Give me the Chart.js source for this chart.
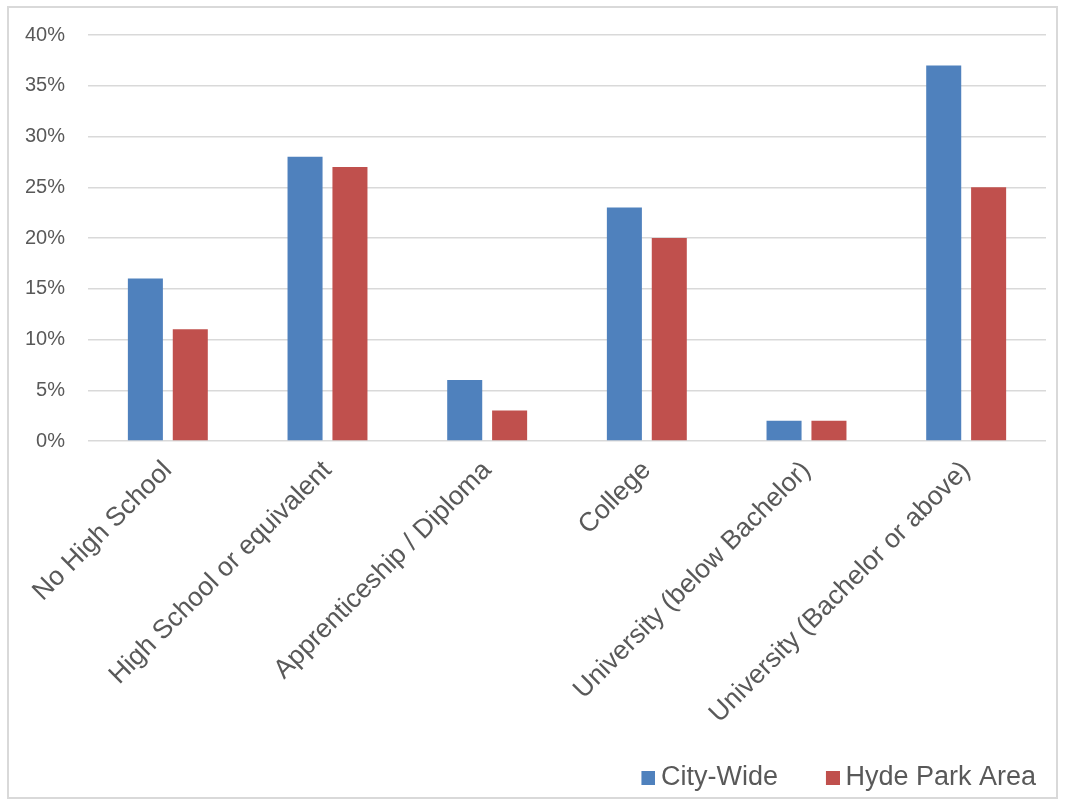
<!DOCTYPE html>
<html>
<head>
<meta charset="utf-8">
<script src="https://cdn.jsdelivr.net/npm/chart.js@4/dist/chart.umd.min.js"></script>
<style>
  html, body { margin: 0; padding: 0; background: #ffffff; }
  #frame {
    position: absolute; left: 7px; top: 6px;
    width: 1051px; height: 793px;
    border: 2px solid #d9d9d9; box-sizing: border-box;
  }
  #chart { display: block; }
</style>
</head>
<body>
<div id="frame"><canvas id="chart" width="1047" height="789"></canvas></div>
<script>
const categories = [
  'No High School',
  'High School or equivalent',
  'Apprenticeship / Diploma',
  'College',
  'University (below Bachelor)',
  'University (Bachelor or above)'
];
const cityWide = [16, 28, 6, 23, 2, 37];
const hydePark = [11, 27, 3, 20, 2, 25];
const yTicks = [0, 5, 10, 15, 20, 25, 30, 35, 40];

const FONT = '"Liberation Sans", Arial, sans-serif';
const TEXT = '#595959';
const COLORS = ['#4f81bd', '#c0504d'];

// Legend swatch: a 14px square at the right edge of a wider transparent
// image, so the square sits close to its label text.
function swatch(color) {
  const c = document.createElement('canvas');
  c.width = 60; c.height = 14;
  const g = c.getContext('2d');
  g.fillStyle = color;
  g.fillRect(46, 0, 14, 14);
  return c;
}

new Chart(document.getElementById('chart'), {
  type: 'bar',
  data: {
    labels: categories,
    datasets: [
      { label: 'City-Wide', data: cityWide, backgroundColor: COLORS[0], pointStyle: swatch(COLORS[0]) },
      { label: 'Hyde Park Area', data: hydePark, backgroundColor: COLORS[1], pointStyle: swatch(COLORS[1]) }
    ]
  },
  options: {
    responsive: false,
    animation: false,
    categoryPercentage: 0.5625,
    barPercentage: 0.78,
    layout: { padding: { left: 15, right: 10, top: 27, bottom: -4 } },
    plugins: {
      tooltip: { enabled: false },
      legend: {
        position: 'bottom',
        align: 'end',
        labels: {
          font: { family: FONT, size: 27 },
          color: TEXT,
          usePointStyle: true,
          pointStyleWidth: 44,
          boxHeight: 14,
          padding: 10
        }
      }
    },
    scales: {
      x: {
        grid: { display: false },
        border: { display: false },
        ticks: {
          font: { family: FONT, size: 26.5 },
          color: TEXT,
          minRotation: 45,
          maxRotation: 45,
          autoSkip: false,
          padding: 6
        },
        // room for the slanted category names below the plot
        afterFit: (s) => { s.paddingLeft = 0; s.paddingRight = 0; s.height = 313; }
      },
      y: {
        min: 0,
        max: 40,
        afterBuildTicks: (axis) => { axis.ticks = yTicks.map(v => ({ value: v })); },
        grid: { color: '#d9d9d9', lineWidth: 1.5, drawTicks: false },
        border: { display: false },
        ticks: {
          font: { family: FONT, size: 20 },
          color: TEXT,
          padding: 23,
          callback: (v) => v + '%'
        },
        afterFit: (s) => { s.paddingTop = 0; s.paddingBottom = 0; s.width = 64; }
      }
    }
  }
});
</script>
</body>
</html>
